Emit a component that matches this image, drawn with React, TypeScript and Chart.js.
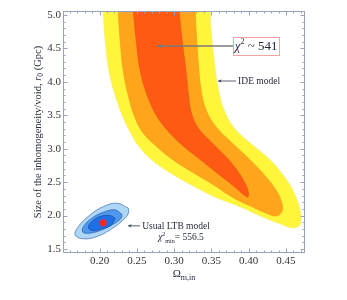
import React, { useEffect, useRef } from "react";
import { Chart, registerables } from "chart.js";

Chart.register(...registerables);

// ---- axis ticks ----
const xTickValues = [0.2, 0.25, 0.3, 0.35, 0.4, 0.45];
const yTickValues = [1.5, 2.0, 2.5, 3.0, 3.5, 4.0, 4.5, 5.0];
const xRange = [0.151, 0.4755];
const yRange = [1.44, 5.06];

// ---- IDE model confidence regions (boundary points: [Omega_m,in, r0]) ----
const ideSigma1: [number, number][] = [
  [0.2424, 5.209], [0.245, 5.06], [0.2491, 4.626], [0.2544, 4.178], [0.2638, 3.804],
  [0.2759, 3.505], [0.2906, 3.281], [0.3107, 3.057], [0.3322, 2.863], [0.3523, 2.683],
  [0.3711, 2.519], [0.3858, 2.384], [0.3952, 2.295], [0.3992, 2.28], [0.3992, 2.369],
  [0.3925, 2.534], [0.3831, 2.698], [0.3697, 2.877], [0.3509, 3.087], [0.3322, 3.311],
  [0.3228, 3.55], [0.3188, 3.849], [0.3161, 4.148], [0.3107, 4.626], [0.3067, 5.06],
  [0.3054, 5.209],
];
const ideSigma2: [number, number][] = [
  [0.2236, 5.209], [0.2249, 5.06], [0.2276, 4.626], [0.2316, 4.178], [0.2383, 3.804],
  [0.2477, 3.46], [0.2584, 3.236], [0.2772, 3.027], [0.2987, 2.833], [0.3241, 2.653],
  [0.3509, 2.474], [0.3777, 2.279], [0.4046, 2.13], [0.426, 2.025], [0.4381, 1.996],
  [0.4448, 2.07], [0.4448, 2.175], [0.4381, 2.354], [0.4233, 2.578], [0.4019, 2.833],
  [0.3777, 3.087], [0.3563, 3.326], [0.3429, 3.58], [0.3362, 3.879], [0.3322, 4.327],
  [0.3295, 4.776], [0.3282, 5.06], [0.3268, 5.209],
];
const ideSigma3: [number, number][] = [
  [0.2035, 5.209], [0.2048, 5.06], [0.2075, 4.626], [0.2129, 4.148], [0.2209, 3.804],
  [0.2303, 3.505], [0.241, 3.251], [0.2544, 3.012], [0.2718, 2.818], [0.2973, 2.623],
  [0.3282, 2.429], [0.3576, 2.265], [0.3885, 2.13], [0.418, 1.981], [0.4421, 1.876],
  [0.4582, 1.816], [0.4676, 1.846], [0.4702, 1.936], [0.4689, 2.085], [0.4622, 2.309],
  [0.4488, 2.564], [0.4287, 2.833], [0.4019, 3.087], [0.3804, 3.311], [0.367, 3.58],
  [0.359, 3.909], [0.3536, 4.327], [0.3496, 4.776], [0.3483, 5.06], [0.3469, 5.209],
];

// ---- usual LTB model confidence regions ----
const ltbSigma1: [number, number][] = [
  [0.2209, 1.961], [0.2142, 2.0], [0.2008, 1.985], [0.1897, 1.91], [0.1851, 1.821],
  [0.1897, 1.776], [0.2031, 1.801], [0.2165, 1.871], [0.2209, 1.961],
];
const ltbSigma2: [number, number][] = [
  [0.2299, 2.021], [0.2209, 2.085], [0.2052, 2.051], [0.1897, 1.961], [0.1784, 1.836],
  [0.1776, 1.752], [0.1874, 1.737], [0.2031, 1.786], [0.2186, 1.871], [0.229, 1.961],
  [0.2299, 2.021],
];
const ltbSigma3: [number, number][] = [
  [0.2387, 2.111], [0.2232, 2.185], [0.2052, 2.135], [0.1874, 2.01], [0.1717, 1.836],
  [0.1673, 1.711], [0.1784, 1.652], [0.1964, 1.686], [0.2142, 1.786], [0.232, 1.936],
  [0.2387, 2.036], [0.2387, 2.111],
];
const ltbBestFit: [number, number] = [0.2048, 1.891];

// ---- annotation texts ----
const ideChi2Label = "541";
const ideLabel = "IDE model";
const ltbLabel = "Usual LTB model";
const ltbChi2Min = "556.5";

const SERIF = '"Liberation Serif", "Times New Roman", serif';
const FRAME = "#9aa3bd";
const TEXT = "#262a3c";

type Part = { t: string; size: number; italic?: boolean; dy?: number };

function partFont(p: Part) {
  return `${p.italic ? "italic " : ""}${p.size}px ${SERIF}`;
}
function richWidth(ctx: CanvasRenderingContext2D, parts: Part[]) {
  let w = 0;
  for (const p of parts) {
    ctx.font = partFont(p);
    w += ctx.measureText(p.t).width;
  }
  return w;
}
function drawRich(ctx: CanvasRenderingContext2D, parts: Part[], x: number, y: number, center = false) {
  let cx = center ? x - richWidth(ctx, parts) / 2 : x;
  ctx.textAlign = "left";
  ctx.textBaseline = "alphabetic";
  for (const p of parts) {
    ctx.font = partFont(p);
    ctx.fillText(p.t, cx, y + (p.dy || 0));
    cx += ctx.measureText(p.t).width;
  }
}
function arrow(ctx: CanvasRenderingContext2D, x1: number, y1: number, x2: number, y2: number, color: string, w: number, head: number) {
  ctx.save();
  ctx.strokeStyle = color;
  ctx.fillStyle = color;
  ctx.lineWidth = w;
  ctx.beginPath();
  ctx.moveTo(x1, y1);
  ctx.lineTo(x2, y2);
  ctx.stroke();
  const ang = Math.atan2(y2 - y1, x2 - x1);
  ctx.beginPath();
  ctx.moveTo(x2, y2);
  ctx.lineTo(x2 - head * Math.cos(ang - 0.45), y2 - head * Math.sin(ang - 0.45));
  ctx.lineTo(x2 - head * 0.6 * Math.cos(ang), y2 - head * 0.6 * Math.sin(ang));
  ctx.lineTo(x2 - head * Math.cos(ang + 0.45), y2 - head * Math.sin(ang + 0.45));
  ctx.closePath();
  ctx.fill();
  ctx.restore();
}

const decoPlugin = {
  id: "deco",
  beforeDraw(chart: any) {
    const c = chart.ctx;
    c.save();
    c.fillStyle = "#ffffff";
    c.fillRect(0, 0, chart.width, chart.height);
    c.restore();
  },
  afterDraw(chart: any) {
    const { ctx, chartArea: a } = chart;
    const xs = chart.scales.x;
    const ys = chart.scales.y;
    const X = (v: number) => xs.getPixelForValue(v);
    const Y = (v: number) => ys.getPixelForValue(v);
    ctx.save();
    // frame
    ctx.strokeStyle = FRAME;
    ctx.lineWidth = 1;
    const L = Math.round(a.left) + 0.5, R = Math.round(a.right) - 0.5;
    const T = Math.round(a.top) + 0.5, B = Math.round(a.bottom) - 0.5;
    ctx.strokeRect(L, T, R - L, B - T);
    // ticks
    ctx.beginPath();
    for (let k = 15; k <= 48; k++) {
      const v = k / 100;
      if (v < xRange[0] || v > xRange[1]) continue;
      const len = k % 5 === 0 ? 4 : 2;
      const px = Math.round(X(v)) + 0.5;
      ctx.moveTo(px, B); ctx.lineTo(px, B - len);
      ctx.moveTo(px, T); ctx.lineTo(px, T + len);
    }
    for (let k = 14; k <= 51; k++) {
      const v = k / 10;
      if (v < yRange[0] || v > yRange[1]) continue;
      const len = k % 5 === 0 ? 4 : 2;
      const py = Math.round(Y(v)) + 0.5;
      ctx.moveTo(L, py); ctx.lineTo(L + len, py);
      ctx.moveTo(R, py); ctx.lineTo(R - len, py);
    }
    ctx.stroke();

    ctx.fillStyle = TEXT;
    // chi^2 ~ 541 box
    const bx1 = X(0.3791), bx2 = X(0.4408), by1 = Y(4.671), by2 = Y(4.402);
    const bym = (by1 + by2) / 2;
    arrow(ctx, bx1, bym, X(0.2772), bym, "#7a7a7a", 1.3, 6);
    ctx.strokeStyle = "#f2a4a4";
    ctx.lineWidth = 1;
    ctx.fillStyle = "#ffffff";
    ctx.fillRect(bx1, by1, bx2 - bx1, by2 - by1);
    ctx.strokeRect(Math.round(bx1) + 0.5, Math.round(by1) + 0.5, Math.round(bx2 - bx1), Math.round(by2 - by1));
    ctx.fillStyle = TEXT;
    drawRich(ctx, [
      { t: "\u03c7", size: 13, italic: true },
      { t: "2", size: 8, dy: -6 },
      { t: " ~ " + ideChi2Label, size: 13 },
    ], (bx1 + bx2) / 2, bym + 4.5, true);

    // IDE model
    const iy = Y(4.013);
    arrow(ctx, X(0.3831), iy, X(0.3589), iy, "#333a55", 0.8, 4);
    drawRich(ctx, [{ t: ideLabel, size: 9.5 }], X(0.3858), iy + 3.2);

    // Usual LTB model
    const ly = Y(1.846);
    arrow(ctx, X(0.2544), ly, X(0.2383), ly, "#333a55", 0.8, 4);
    drawRich(ctx, [{ t: ltbLabel, size: 9.5 }], X(0.2571), ly + 3.2);
    const cy = Y(1.682);
    drawRich(ctx, [
      { t: "\u03c7", size: 9.5, italic: true },
      { t: "2", size: 6, dy: -4 },
      { t: "min", size: 6, dy: 2.5 },
      { t: "= " + ltbChi2Min, size: 9.5 },
    ], X(0.2786), cy + 3.2);

    // x title
    drawRich(ctx, [
      { t: "\u03a9", size: 11 },
      { t: "m,in", size: 8, dy: 2.5 },
    ], (a.left + a.right) / 2, 277, true);

    // y title
    ctx.translate(37, (a.top + a.bottom) / 2);
    ctx.rotate(-Math.PI / 2);
    drawRich(ctx, [
      { t: "Size of the inhomogeneity/void, ", size: 10.5 },
      { t: "r", size: 10.5, italic: true },
      { t: "0", size: 7.5, dy: 2.5 },
      { t: " (Gpc)", size: 10.5 },
    ], 0, 3.5, true);
    ctx.restore();
  },
};

function pts(arr: [number, number][]) {
  return arr.map(([x, y]) => ({ x, y }));
}

export default function App() {
  const ref = useRef<HTMLCanvasElement>(null);
  useEffect(() => {
    document.body.style.margin = "0";
    const canvas = ref.current!;
    const region = (arr: [number, number][], fillColor: string, edge: string, w: number) => ({
      data: pts(arr),
      showLine: true,
      fill: "shape",
      backgroundColor: fillColor,
      borderColor: edge,
      borderWidth: w,
      pointRadius: 0,
      pointHoverRadius: 0,
      tension: 0.4,
      clip: 0,
    });
    const chart = new Chart(canvas, {
      type: "scatter",
      data: {
        datasets: [
          {
            data: [{ x: ltbBestFit[0], y: ltbBestFit[1] }],
            pointRadius: 3.6,
            backgroundColor: "#ff2424",
            borderColor: "#ff2424",
            borderWidth: 0,
            showLine: false,
          } as any,
          region(ltbSigma1, "#1f6fe6", "#1a4fa8", 0.7),
          region(ltbSigma2, "#4f98ec", "#2a5cae", 0.7),
          region(ltbSigma3, "#add7f4", "#3c6cb4", 0.7),
          region(ideSigma1, "#ff5a14", "#e8560f", 0.7),
          region(ideSigma2, "#ffa51c", "#f0a01a", 0.7),
          region(ideSigma3, "#fff53a", "#f4ee6a", 0.7),
        ],
      },
      options: {
        responsive: false,
        animation: false,
        devicePixelRatio: 1,
        events: [],
        layout: { padding: { left: 0, top: 11, right: 42, bottom: 0 } },
        plugins: {
          legend: { display: false },
          tooltip: { enabled: false },
          title: { display: false },
        },
        scales: {
          x: {
            type: "linear",
            min: xRange[0],
            max: xRange[1],
            grid: { display: false, drawTicks: false },
            border: { display: false },
            afterBuildTicks: (s: any) => {
              s.ticks = xTickValues.map((v) => ({ value: v }));
            },
            afterFit: (s: any) => {
              s.height = 47;
            },
            ticks: {
              padding: 2,
              color: "#333",
              font: { family: SERIF, size: 11 },
              maxRotation: 0,
              autoSkip: false,
              callback: (v: any) => Number(v).toFixed(2),
            },
          },
          y: {
            type: "linear",
            min: yRange[0],
            max: yRange[1],
            grid: { display: false, drawTicks: false },
            border: { display: false },
            afterBuildTicks: (s: any) => {
              s.ticks = yTickValues.map((v) => ({ value: v }));
            },
            afterFit: (s: any) => {
              s.width = 63;
            },
            ticks: {
              padding: 2,
              color: "#333",
              font: { family: SERIF, size: 11 },
              autoSkip: false,
              callback: (v: any) => Number(v).toFixed(1),
            },
          },
        },
      } as any,
      plugins: [decoPlugin as any],
    });
    return () => chart.destroy();
  }, []);
  return (
    <canvas
      ref={ref}
      width={347}
      height={300}
      style={{ display: "block", width: 347, height: 300 }}
    />
  );
}
